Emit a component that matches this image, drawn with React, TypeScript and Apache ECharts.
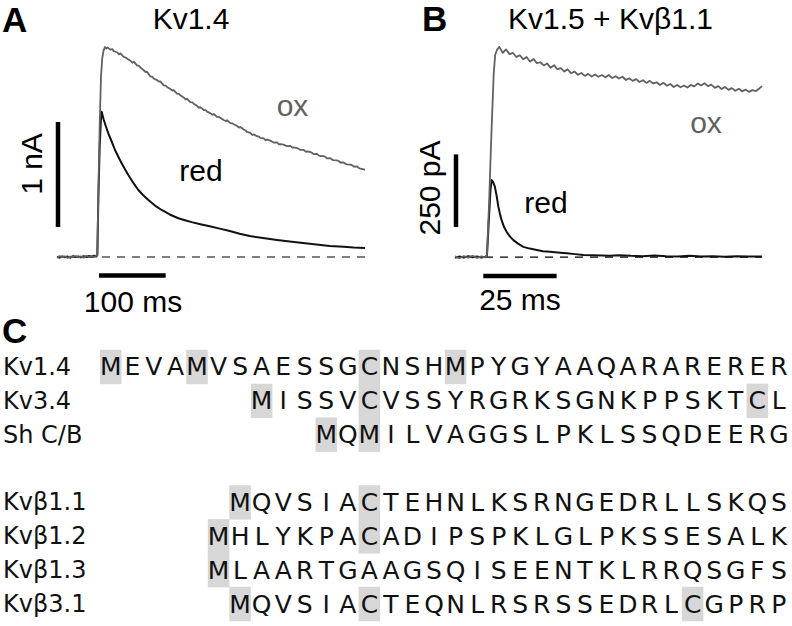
import React, { useEffect, useRef } from 'react';
import * as echarts from 'echarts';

// ---------- Panel A: Kv1.4 currents (time in ms, current in nA) ----------
const kv14Ox: number[][] = [
  [0, -0.005], [4, 0.008], [8, -0.004], [12, 0.006], [16, -0.008], [20, 0.004], [24, 0.0], [28, 0.009],
  [32, -0.003], [36, 0.006], [40, -0.006], [44, 0.01], [48, 0.002], [52, 0.008], [56, 0.0], [59, 0.015],
  [60.5, 0.02], [62, 0.6], [64, 1.25], [66, 1.72], [68, 1.9], [70, 1.97], [72, 2.0], [74, 1.985], [76, 1.995],
  [80, 1.975], [83, 1.98], [85, 1.96], [90, 1.95], [93, 1.93], [95, 1.94], [100, 1.905], [103, 1.9], [105, 1.89],
  [110, 1.87], [113, 1.85], [115, 1.86], [120, 1.825], [123, 1.82], [125, 1.805], [130, 1.78], [133, 1.76],
  [135, 1.765], [140, 1.72], [143, 1.715], [145, 1.7], [150, 1.685], [153, 1.67], [155, 1.672], [160, 1.635],
  [163, 1.632], [165, 1.62], [170, 1.6], [173, 1.585], [175, 1.59], [180, 1.555], [183, 1.553], [185, 1.54],
  [190, 1.52], [193, 1.5], [195, 1.508], [200, 1.475], [203, 1.472], [205, 1.46], [210, 1.44], [213, 1.42],
  [215, 1.428], [220, 1.4], [223, 1.398], [225, 1.385], [230, 1.37], [233, 1.355], [235, 1.362], [240, 1.335],
  [243, 1.334], [245, 1.325], [250, 1.305], [253, 1.295], [255, 1.302], [260, 1.275], [263, 1.273], [265, 1.265],
  [270, 1.248], [273, 1.232], [275, 1.238], [280, 1.215], [283, 1.205], [285, 1.192], [290, 1.182], [293, 1.162],
  [295, 1.168], [300, 1.15], [303, 1.146], [305, 1.135], [310, 1.13], [313, 1.112], [315, 1.118], [320, 1.108],
  [323, 1.098], [325, 1.09], [330, 1.092], [333, 1.072], [335, 1.076], [340, 1.07], [343, 1.06], [345, 1.055],
  [350, 1.058], [353, 1.042], [355, 1.044], [360, 1.038], [363, 1.028], [365, 1.02], [370, 1.02], [373, 1.004],
  [375, 1.006], [380, 1.0], [383, 0.99], [385, 0.98], [390, 0.982], [393, 0.966], [395, 0.962], [400, 0.96],
  [403, 0.952], [405, 0.94], [410, 0.942], [413, 0.926], [415, 0.922], [420, 0.92], [423, 0.912], [425, 0.9],
  [430, 0.9], [433, 0.886], [435, 0.882], [440, 0.88], [443, 0.872], [445, 0.86], [450, 0.862], [453, 0.846],
  [455, 0.842], [460, 0.835], [462, 0.83],
];
const kv14Red: number[][] = [
  [0, 0.0], [4, -0.006], [8, 0.006], [12, -0.002], [16, 0.004], [20, -0.006], [24, 0.007], [28, 0.0],
  [32, 0.005], [36, -0.004], [40, 0.008], [44, 0.0], [48, 0.01], [52, 0.002], [56, 0.012], [59, 0.005],
  [60.5, 0.02], [62, 0.55], [64, 1.05], [66, 1.32], [67, 1.384], [70, 1.31], [73, 1.25], [77, 1.178],
  [82, 1.1], [87, 1.019], [92, 0.955], [97, 0.892], [102, 0.835], [107, 0.781], [114, 0.71], [122, 0.638],
  [129, 0.59], [137, 0.543], [147, 0.49], [157, 0.448], [169, 0.405], [182, 0.369], [192, 0.35], [202, 0.332],
  [215, 0.312], [229, 0.292], [244, 0.27], [259, 0.248], [274, 0.222], [289, 0.2], [309, 0.18], [330, 0.162],
  [349, 0.147], [369, 0.133], [389, 0.118], [409, 0.105], [430, 0.097], [445, 0.09], [462, 0.086],
];

// ---------- Panel B: Kv1.5 + Kvβ1.1 currents (time in ms, current in pA) ----------
const kv15Ox: number[][] = [
  [0, 2], [1.5, -4], [3, 3], [4.5, -2], [6, 4], [7.5, -3], [9, 2], [10.3, -1], [10.9, 5],
  [11.6, 180], [12.4, 420], [13.2, 630], [13.7, 695], [14.3, 712], [15.1, 723],
  [16.3, 702], [17.4, 714], [18.6, 698], [19.8, 702], [20.9, 688], [22.1, 694], [23.3, 680], [24.4, 688],
  [25.6, 672], [26.8, 681], [27.9, 667], [29.1, 670], [30.3, 659], [31.4, 666], [32.6, 651], [33.8, 660],
  [34.9, 646], [36.1, 650], [37.3, 638], [38.4, 646], [39.6, 632], [40.8, 638], [41.9, 627], [43.1, 633],
  [44.3, 623], [45.4, 630], [46.6, 621], [47.8, 628], [48.9, 620], [50.1, 626], [51.3, 618], [52.4, 626],
  [53.6, 616], [54.8, 622], [55.9, 614], [57.1, 620], [58.3, 609], [59.4, 615], [60.6, 606], [61.8, 612],
  [62.9, 602], [64.1, 608], [65.3, 599], [66.4, 606], [67.6, 597], [68.8, 601], [69.9, 592], [71.1, 599],
  [72.3, 589], [73.4, 595], [74.6, 585], [75.8, 592], [76.9, 584], [78.1, 590], [79.3, 583], [80.4, 592],
  [81.6, 587], [82.8, 597], [83.9, 590], [85.1, 598], [86.3, 588], [87.4, 593], [88.6, 582], [89.8, 588],
  [90.9, 578], [92.1, 585], [93.3, 575], [94.4, 581], [95.6, 572], [96.8, 579], [97.9, 570], [99.1, 576],
  [100.3, 568], [101.4, 574], [102.6, 571], [103.8, 580], [104.7, 588],
];
const kv15Red: number[][] = [
  [0, -3], [1.5, 2], [3, -2], [4.5, 3], [6, -1], [7.5, 2], [9, -2], [10.3, 1], [10.9, 4],
  [11.5, 120], [12.1, 230], [12.5, 265], [13.0, 258], [13.6, 242], [14.2, 210], [14.8, 173], [15.4, 145],
  [15.9, 127], [16.7, 104], [17.6, 87], [18.7, 71], [19.9, 58], [21.5, 46], [23.3, 35], [25.5, 29],
  [27.9, 24], [30.0, 20], [32.4, 18], [35.0, 16], [38.1, 13], [41.0, 10], [43.7, 7], [47, 6], [50, 5],
  [52.8, 4], [56, 6], [60, 4], [64, 3], [68, 5], [72, 3], [76, 2], [80, 4], [84, 2], [88, 3], [92, 1],
  [96, 3], [100, 2], [104.7, 2],
];

// scale bars
const scaleA = { current: 1, time: 100 }; // nA, ms
const scaleB = { current: 250, time: 25 }; // pA, ms

// ---------- Panel C: N-terminal alignment ----------
const rowNames = ['Kv1.4', 'Kv3.4', 'Sh C/B', '', 'Kvβ1.1', 'Kvβ1.2', 'Kvβ1.3', 'Kvβ3.1'];
const sequences = [
  'MEVAMVSAESSGCNSHMPYGYAAQARARERER',
  'MISSVCVSSYRGRKSGNKPPSKTCL',
  'MQMILVAGGSLPKLSSQDEERG',
  '',
  'MQVSIACTEHNLKSRNGEDRLLSKQS',
  'MHLYKPACADIPSPKLGLPKSSESALK',
  'MLAARTGAAGSQISEENTKLRRQSGFS',
  'MQVSIACTEQNLRSRSSEDRLCGPRP',
];
const highlightedResidues = ['M', 'C'];
const alignmentLength = 32;

export default function App() {
  const ref = useRef<HTMLDivElement>(null);

  useEffect(() => {
    const chart = echarts.init(ref.current!, null, { renderer: 'svg' });

    const letterCells: any[] = [];
    const highlightCells: number[][] = [];
    sequences.forEach((seq, row) => {
      const start = alignmentLength - seq.length;
      seq.split('').forEach((ch, i) => {
        letterCells.push([start + i, row, ch]);
        if (highlightedResidues.includes(ch)) highlightCells.push([start + i, row]);
      });
    });

    const grayTrace = '#616161';
    const blackTrace = '#111111';
    const sans = 'Liberation Sans';
    const seqFont = 'DejaVu Sans';

    const traceSeries = (data: number[][], idx: number, color: string, z: number, width: number) => ({
      type: 'line',
      xAxisIndex: idx,
      yAxisIndex: idx,
      data,
      symbol: 'none',
      silent: true,
      z,
      lineStyle: { color, width, join: 'round' },
    });
    const barSeries = (data: number[][], idx: number) => ({
      type: 'line',
      xAxisIndex: idx,
      yAxisIndex: idx,
      data,
      symbol: 'none',
      silent: true,
      clip: false,
      z: 5,
      lineStyle: { color: '#000', width: 4.5, cap: 'butt' },
    });

    const txt = (text: string, x: number, y: number, size: number, extra: any = {}) => ({
      type: 'text',
      x,
      y,
      rotation: extra.rotation || 0,
      style: {
        text,
        fontSize: size,
        lineHeight: extra.lineHeight || Math.round(size * 1.1),
        fontFamily: sans,
        fontWeight: extra.bold ? 'bold' : 'normal',
        fill: extra.fill || '#000',
        align: extra.align || 'center',
        verticalAlign: 'middle',
        textAlign: extra.align || 'center',
        textVerticalAlign: 'middle',
      },
    });

    const option: any = {
      animation: false,
      backgroundColor: '#ffffff',
      grid: [
        { left: 57, top: 31.25, width: 308, height: 252 },
        { left: 455, top: 41.9, width: 307, height: 241.3 },
        { left: 100, top: 350.07, width: 689.6, height: 270.86 },
      ],
      xAxis: [
        { type: 'value', gridIndex: 0, min: 0, max: 462, show: false },
        { type: 'value', gridIndex: 1, min: 0, max: 104.7, show: false },
        { type: 'value', gridIndex: 2, min: -0.5, max: alignmentLength - 0.5, show: false },
      ],
      yAxis: [
        { type: 'value', gridIndex: 0, min: -0.25, max: 2.15, show: false },
        { type: 'value', gridIndex: 1, min: -90, max: 740, show: false },
        {
          type: 'category',
          gridIndex: 2,
          inverse: true,
          data: rowNames,
          axisLine: { show: false },
          axisTick: { show: false },
          splitLine: { show: false },
          axisLabel: {
            show: true,
            align: 'left',
            margin: 97,
            fontSize: 24,
            fontFamily: seqFont,
            color: '#111',
          },
        },
      ],
      graphic: [
        txt('A', 2, 19, 35, { bold: true, align: 'left', lineHeight: 28 }),
        txt('B', 422, 18, 35, { bold: true, align: 'left', lineHeight: 28 }),
        txt('C', 2, 330, 35, { bold: true, align: 'left', lineHeight: 28 }),
        txt('Kv1.4', 191, 18, 30, { lineHeight: 28 }),
        txt('Kv1.5 + Kvβ1.1', 610.5, 18, 30, { lineHeight: 28 }),
        txt('ox', 292.5, 105, 30, { fill: grayTrace }),
        txt('red', 201, 170, 30),
        txt('1 nA', 31, 164, 30, { rotation: Math.PI / 2 }),
        txt('100 ms', 133, 301, 30),
        txt('ox', 706, 122, 30, { fill: grayTrace }),
        txt('red', 546, 202, 30),
        txt('250 pA', 429, 188, 30, { rotation: Math.PI / 2 }),
        txt('25 ms', 520, 299, 30),
      ],
      series: [
        // dashed zero lines
        {
          type: 'line', xAxisIndex: 0, yAxisIndex: 0, symbol: 'none', silent: true, z: 1,
          data: [[0, 0], [462, 0]],
          lineStyle: { color: '#000', width: 1.2, type: [8, 7] },
        },
        {
          type: 'line', xAxisIndex: 1, yAxisIndex: 1, symbol: 'none', silent: true, z: 1,
          data: [[0, 0], [104.7, 0]],
          lineStyle: { color: '#000', width: 1.2, type: [8, 7] },
        },
        traceSeries(kv14Red, 0, blackTrace, 2, 2),
        traceSeries(kv14Ox, 0, grayTrace, 3, 1.8),
        traceSeries(kv15Red, 1, blackTrace, 2, 2),
        traceSeries(kv15Ox, 1, grayTrace, 3, 1.8),
        // scale bars
        barSeries([[1.5, 0.286], [1.5, 0.286 + scaleA.current]], 0),
        barSeries([[63, -0.176], [63 + scaleA.time, -0.176]], 0),
        barSeries([[0.34, 103], [0.34, 103 + scaleB.current]], 1),
        barSeries([[9.65, -65], [9.65 + scaleB.time, -65]], 1),
        // alignment highlights
        {
          type: 'custom',
          xAxisIndex: 2,
          yAxisIndex: 2,
          silent: true,
          z: 1,
          data: highlightCells,
          encode: { x: 0, y: 1 },
          renderItem: (params: any, api: any) => {
            const p = api.coord([api.value(0), api.value(1)]);
            const size = api.size([1, 1]);
            const w = size[0];
            const h = size[1] + 0.6;
            return {
              type: 'rect',
              shape: { x: p[0] - w / 2, y: p[1] - h / 2, width: w, height: h },
              style: { fill: '#d7d7d7' },
            };
          },
        },
        // alignment letters
        {
          type: 'custom',
          xAxisIndex: 2,
          yAxisIndex: 2,
          silent: true,
          z: 2,
          data: letterCells.map((c) => [c[0], c[1]]),
          encode: { x: 0, y: 1 },
          renderItem: (params: any, api: any) => {
            const cell = letterCells[params.dataIndex];
            const p = api.coord([cell[0], cell[1]]);
            return {
              type: 'text',
              x: p[0],
              y: p[1],
              style: {
                text: cell[2],
                fill: '#111',
                fontSize: 25,
                fontFamily: seqFont,
                align: 'center',
                verticalAlign: 'middle',
                textAlign: 'center',
                textVerticalAlign: 'middle',
              },
            };
          },
        },
      ],
    };

    chart.setOption(option);
    return () => chart.dispose();
  }, []);

  return (
    <div
      ref={ref}
      style={{ position: 'fixed', left: 0, top: 0, width: 792, height: 626, background: '#fff' }}
    />
  );
}
